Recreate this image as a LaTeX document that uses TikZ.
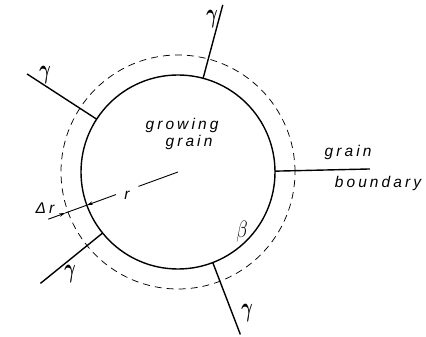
\documentclass[tikz,border=0pt]{standalone}
\usepackage{fontspec}
\usepackage{amsmath}
\setsansfont{Liberation Sans}
\newfontfamily\lettering[LetterSpace=20]{Liberation Sans}
\usetikzlibrary{arrows.meta}
\tikzset{
  grainline/.style={line width=1.4pt},
  dashcircle/.style={line width=0.75pt, dash pattern=on 7pt off 5pt},
  lab/.style={font=\lettering\itshape\fontsize{15.5}{15.5}\selectfont, inner sep=0pt},
  greek/.style={inner sep=0pt, font=\fontsize{24}{24}\selectfont},
  dim/.style={line width=0.9pt}
}
\newcommand{\gam}{\scalebox{0.7}[1.1]{$\boldsymbol{\gamma}$}}
\begin{document}
\begin{tikzpicture}[x=1pt,y=1pt]
\useasboundingbox (0,0) rectangle (426,337);
\begin{scope}[shift={(178,165)}]
  \coordinate (C) at (0,0);
  % grains
  \draw[grainline] (C) circle[radius=97];
  \draw[dashcircle] (C) circle[radius=117];
  % grain boundaries
  \draw[grainline] (147:97) -- (147:180);
  \draw[grainline] (75:97) -- (75:173);
  \draw[grainline] (0.5:97) -- (0.9:192);
  \draw[grainline] (-69:97) -- (-69:174);
  \draw[grainline] (219:97) -- (219:177);
  % radius and delta r
  \coordinate (R0) at (200:0);
  \coordinate (R1) at (200:42);
  \coordinate (R2) at (200:66);
  \coordinate (Rs) at (200:97);
  \coordinate (Rd) at (200:120);
  \coordinate (Ro) at (200:138);
  \draw[dim] (R0) -- (R1);
  \draw[dim,-{Stealth[length=6pt,width=3.5pt]}] (R2) -- (Rs);
  \draw[dim] (Rs) -- (Rd);
  \draw[dim,-{Stealth[length=6pt,width=3.5pt]}] (Ro) -- (Rd);
\end{scope}
% labels
\node[greek] (g1) at (45,262) {\gam};
\node[greek] (g2) at (212,318) {\gam};
\node[greek] (g3) at (247,24) {\gam};
\node[greek] (g4) at (70,63) {\gam};
\node[greek] (b) at (242,105) {\scalebox{0.75}[0.95]{$\beta$}};
\node[lab] (gr1) at (182,212) {growing};
\node[lab] (gr2) at (189,195) {grain};
\node[lab] (gb1) at (348,185) {grain};
\node[lab] (gb2) at (378,154) {boundary};
\node[lab] (r) at (127,142) {r};
\node[lab] (dr) at (45,129) {Δr};
\end{tikzpicture}
\end{document}
